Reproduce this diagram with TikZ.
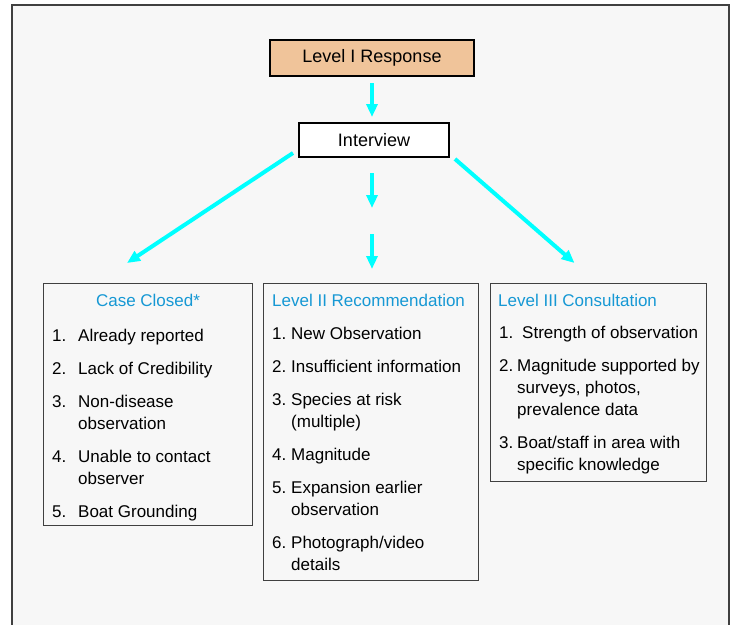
\documentclass[tikz,border=0pt]{standalone}
\usepackage{fontspec}
\setmainfont{Liberation Sans}
\usetikzlibrary{arrows.meta}
\definecolor{peach}{RGB}{240,196,154}
\definecolor{titleblue}{RGB}{22,152,212}
\definecolor{flowcyan}{RGB}{0,255,255}
\definecolor{panel}{RGB}{247,247,247}
\definecolor{edge}{RGB}{64,64,64}
\newcommand{\nr}[2]{\makebox[#1][l]{#2}}
\begin{document}
\begin{tikzpicture}[x=1pt,y=-1pt,
  head/.style={draw=black,line width=2pt,font=\fontsize{18}{22}\selectfont,inner sep=0pt},
  listbox/.style={draw=edge,line width=1pt,fill=panel,inner sep=0pt,anchor=north west},
  boxtitle/.style={text=titleblue,font=\fontsize{17}{22}\selectfont,inner sep=0pt},
  items/.style={align=left,font=\fontsize{17}{22}\selectfont,inner sep=0pt,anchor=base west},
  flow/.style={draw=flowcyan,line width=4pt,-{Triangle[length=13pt,width=11pt]}}]
\clip (0,0) rectangle (735,624);
\useasboundingbox (0,0) rectangle (735,624);
\fill[white] (0,0) rectangle (735,624);
\draw[edge,line width=1.5pt,fill=panel] (12,5) rectangle (729,640);
% heads
\node[head,fill=peach,minimum width=204pt,minimum height=36pt] (resp) at (372,58) {Level I Response};
\node[head,fill=white,minimum width=150pt,minimum height=34pt] (iv) at (374,140) {Interview};
% the three outcomes
\node[listbox,minimum width=209pt,minimum height=242pt] (closed) at (43,283) {};
\node[listbox,minimum width=215pt,minimum height=297pt] (rec) at (263,283) {};
\node[listbox,minimum width=216pt,minimum height=198pt] (consult) at (490,283) {};
\node[boxtitle,anchor=base] (closedhd) at ([shift={(0,23)}]closed.north) {Case Closed*};
\node[boxtitle,anchor=base west] (rechd) at ([shift={(9,23)}]rec.north west) {Level II Recommendation};
\node[boxtitle,anchor=base west] (consulthd) at ([shift={(8,23)}]consult.north west) {Level III Consultation};
% lists sit on their last line
\node[items] (closedlist) at ([shift={(9,234)}]closed.north west) {%
  \nr{26pt}{1.}Already reported\\[11pt]
  \nr{26pt}{2.}Lack of Credibility\\[11pt]
  \nr{26pt}{3.}Non-disease\\ \hspace*{26pt}observation\\[11pt]
  \nr{26pt}{4.}Unable to contact\\ \hspace*{26pt}observer\\[11pt]
  \nr{26pt}{5.}Boat Grounding};
\node[items] (reclist) at ([shift={(9,287)}]rec.north west) {%
  \nr{19pt}{1.}New Observation\\[11pt]
  \nr{19pt}{2.}Insufficient information\\[11pt]
  \nr{19pt}{3.}Species at risk\\ \hspace*{19pt}(multiple)\\[11pt]
  \nr{19pt}{4.}Magnitude\\[11pt]
  \nr{19pt}{5.}Expansion earlier\\ \hspace*{19pt}observation\\[11pt]
  \nr{19pt}{6.}Photograph/video\\ \hspace*{19pt}details};
\node[items] (consultlist) at ([shift={(9,187)}]consult.north west) {%
  \nr{23pt}{1.}Strength of observation\\[11pt]
  \nr{18pt}{2.}Magnitude supported by\\ \hspace*{18pt}surveys, photos,\\ \hspace*{18pt}prevalence data\\[11pt]
  \nr{18pt}{3.}Boat/staff in area with\\ \hspace*{18pt}specific knowledge};
% arrows
\coordinate (mid) at (resp.south |- iv.south);
\coordinate (midb) at (mid |- rec.north);
\draw[flow,shorten <=6pt,shorten >=5pt] (resp.south) -- (resp.south |- iv.north);
\draw[flow] ([shift={(0,15)}]mid) -- ([shift={(0,50)}]mid);
\draw[flow] ([shift={(0,-49)}]midb) -- ([shift={(0,-14)}]midb);
\draw[flow] ([shift={(-5,-5)}]iv.south west) -- ([shift={(-21,-20)}]closed.north);
\draw[flow] ([shift={(5,1)}]iv.south east) -- ([shift={(-24,-20)}]consult.north);
\end{tikzpicture}
\end{document}
